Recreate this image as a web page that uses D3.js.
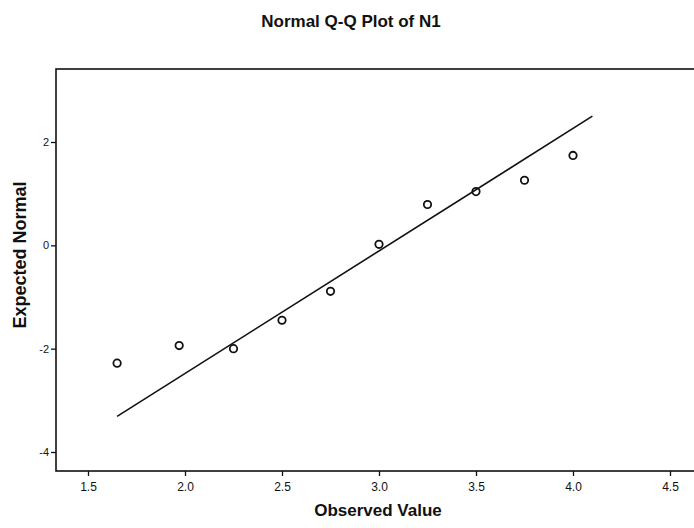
<!DOCTYPE html>
<html>
<head>
<meta charset="utf-8">
<script src="https://cdn.jsdelivr.net/npm/d3@7"></script>
<style>
  body { margin: 0; background: #fff; }
  svg { display: block; font-family: "Liberation Sans", Arial, sans-serif; }
</style>
</head>
<body>
<div id="chart"></div>
<script>
// observed values and their expected normal scores
const observed = [1.65, 1.97, 2.25, 2.5, 2.75, 3.0, 3.25, 3.5, 3.75, 4.0];
const expected = [-2.28, -1.94, -2.0, -1.45, -0.89, 0.02, 0.79, 1.04, 1.26, 1.74];

// reference line endpoints
const lineX = [1.65, 4.1];
const lineY = [-3.31, 2.5];

const xTicks = [1.5, 2.0, 2.5, 3.0, 3.5, 4.0, 4.5];
const yTicks = [2, 0, -2, -4];

const width = 694;
const height = 528;
const frame = { left: 56, top: 69, right: 700, bottom: 471 };

const svg = d3.select('#chart')
  .append('svg')
  .attr('width', width)
  .attr('height', height);

const xScale = d3.scaleLinear()
  .domain([1.5, 4.5])
  .range([88, 670]);

const yScale = d3.scaleLinear()
  .domain([2, -4])
  .range([142, 452]);

// plot frame
svg.append('rect')
  .attr('x', frame.left)
  .attr('y', frame.top)
  .attr('width', frame.right - frame.left)
  .attr('height', frame.bottom - frame.top)
  .attr('fill', 'none')
  .attr('stroke', '#111')
  .attr('stroke-width', 1.6);

// x axis
const xAxis = d3.axisBottom(xScale)
  .tickValues(xTicks)
  .tickFormat(d3.format('.1f'))
  .tickSize(5)
  .tickPadding(6);

const gx = svg.append('g')
  .attr('transform', 'translate(0,' + frame.bottom + ')')
  .call(xAxis);
gx.select('.domain').remove();
gx.selectAll('line').attr('stroke', '#111').attr('stroke-width', 1.3);
gx.selectAll('text')
  .attr('font-size', 12)
  .attr('font-family', '"Liberation Sans", Arial, sans-serif')
  .attr('fill', '#111');

// y axis (plain hyphen for negatives, as in the original)
const yAxis = d3.axisLeft(yScale)
  .tickValues(yTicks)
  .tickFormat((d) => String(d))
  .tickSize(5)
  .tickPadding(2);

const gy = svg.append('g')
  .attr('transform', 'translate(' + frame.left + ',0)')
  .call(yAxis);
gy.select('.domain').remove();
gy.selectAll('line').attr('stroke', '#111').attr('stroke-width', 1.3);
gy.selectAll('text')
  .attr('font-size', 11)
  .attr('font-family', '"Liberation Sans", Arial, sans-serif')
  .attr('fill', '#111');

// reference line
svg.append('line')
  .attr('x1', xScale(lineX[0]))
  .attr('y1', yScale(lineY[0]))
  .attr('x2', xScale(lineX[1]))
  .attr('y2', yScale(lineY[1]))
  .attr('stroke', '#111')
  .attr('stroke-width', 1.6);

// points
svg.append('g')
  .selectAll('circle')
  .data(observed)
  .enter().append('circle')
  .attr('cx', (d) => xScale(d))
  .attr('cy', (d, i) => yScale(expected[i]))
  .attr('r', 3.7)
  .attr('fill', 'none')
  .attr('stroke', '#111')
  .attr('stroke-width', 1.8);

// titles
svg.append('text')
  .attr('x', 351)
  .attr('y', 27)
  .attr('text-anchor', 'middle')
  .attr('font-size', 17)
  .attr('font-weight', 'bold')
  .attr('fill', '#111')
  .text('Normal Q-Q Plot of N1');

svg.append('text')
  .attr('x', 378)
  .attr('y', 516)
  .attr('text-anchor', 'middle')
  .attr('font-size', 17)
  .attr('font-weight', 'bold')
  .attr('fill', '#111')
  .text('Observed Value');

svg.append('text')
  .attr('transform', 'translate(26,255) rotate(-90)')
  .attr('text-anchor', 'middle')
  .attr('font-size', 18)
  .attr('font-weight', 'bold')
  .attr('fill', '#111')
  .text('Expected Normal');
</script>
</body>
</html>
